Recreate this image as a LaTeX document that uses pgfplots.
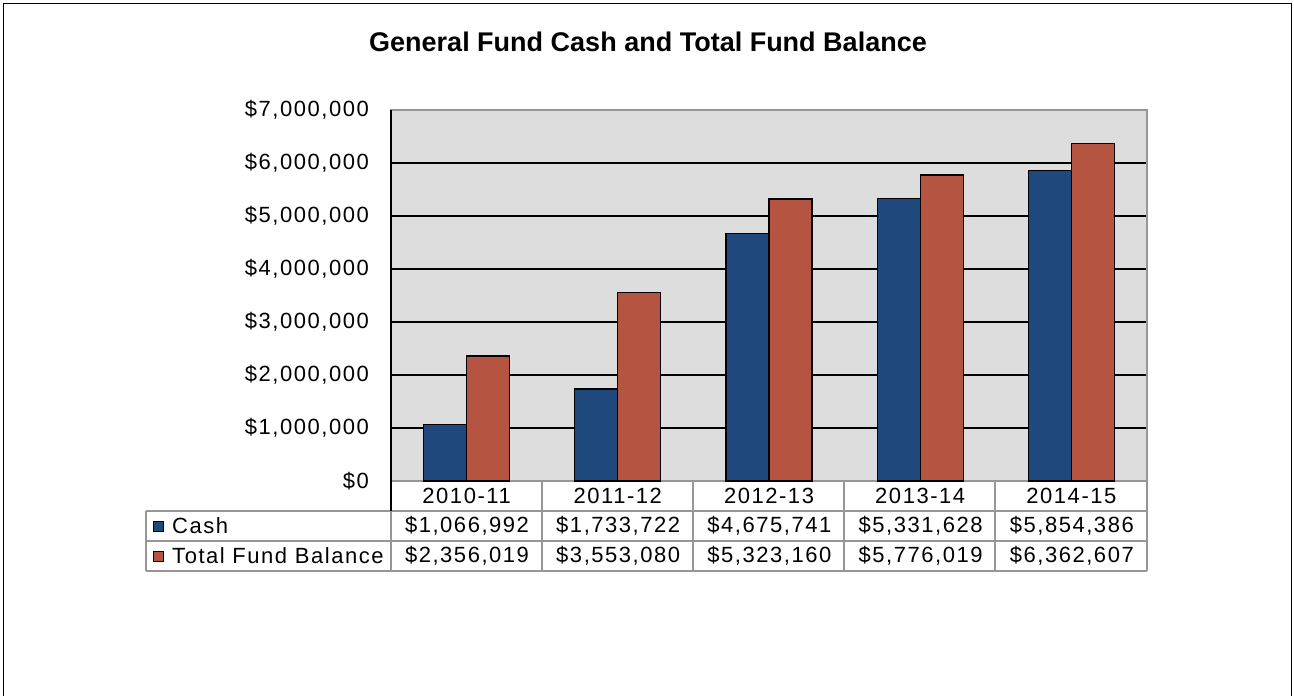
\documentclass[border=0pt]{standalone}
\usepackage{fontspec}
\setmainfont{Liberation Sans}[LetterSpace=7]
\newfontfamily\titlefont{Liberation Sans Bold}
\usepackage{pgfplots}
\pgfplotsset{compat=1.18}
\definecolor{bgc}{RGB}{221,221,221}
\definecolor{cashc}{RGB}{31,73,125}
\definecolor{tfbc}{RGB}{182,84,66}
\definecolor{tabc}{RGB}{150,150,150}
\begin{document}
\begin{tikzpicture}[x=1bp,y=1bp]
\useasboundingbox (0,0) rectangle (1294,696);
\draw[line width=1.5bp] (3.5,0) -- (3.5,692.5) -- (1291.5,692.5) -- (1291.5,0);
\node[font=\titlefont\fontsize{27bp}{30bp}\selectfont] at (648,654) {General Fund Cash and Total Fund Balance};
\begin{axis}[at={(391bp,215bp)}, anchor=south west,
  width=756bp, height=371bp, scale only axis,
  xmin=-0.5, xmax=4.5, ymin=0, ymax=7000000,
  ybar=0pt, bar width=43bp,
  xtick={0,1,2,3,4},
  xticklabels={2010-11,2011-12,2012-13,2013-14,2014-15},
  ytick={0,1000000,2000000,3000000,4000000,5000000,6000000,7000000},
  yticklabels={\$0,{\$1,000,000},{\$2,000,000},{\$3,000,000},{\$4,000,000},{\$5,000,000},{\$6,000,000},{\$7,000,000}},
  major tick length=0pt,
  ymajorgrids, grid style={black, line width=1.3bp},
  axis background/.style={fill=bgc},
  axis line style={tabc, line width=1.5bp},
  tick label style={font=\fontsize{22bp}{24bp}\selectfont},
  yticklabel style={anchor=east, inner sep=0pt, xshift=-22bp},
  xticklabel style={anchor=center, inner sep=0pt, yshift=-15bp},
  clip=false, scaled y ticks=false]
\addplot[fill=cashc, draw=black, line width=1.3bp] coordinates {(0,1066992) (1,1733722) (2,4675741) (3,5331628) (4,5854386)};
\addplot[fill=tfbc, draw=black, line width=1.3bp] coordinates {(0,2356019) (1,3553080) (2,5323160) (3,5776019) (4,6362607)};
\end{axis}
% data table
\begin{scope}[tabc, line width=1.5bp]
\draw (146,185) -- (1147,185);
\draw (146,155) -- (1147,155);
\draw (146,125) -- (1147,125);
\draw (146,185) -- (146,125);
\draw (391,185) -- (391,125);
\foreach \x in {542,693,844,995,1147} \draw (\x,215) -- (\x,125);
\end{scope}
\draw[black, line width=1.5bp] (391,586) -- (391,185);
\begin{scope}[font=\fontsize{22bp}{24bp}\selectfont]
\filldraw[fill=cashc, draw=black, line width=0.8bp] (153,164.5) rectangle (163,174.5);
\filldraw[fill=tfbc, draw=black, line width=0.8bp] (153,134.5) rectangle (163,144.5);
\node[anchor=west, inner sep=0pt] at (172,170) {Cash};
\node[anchor=west, inner sep=0pt] at (172,140) {Total Fund Balance};
\node at (467.0,170) {\$1,066,992};
\node at (618.2,170) {\$1,733,722};
\node at (769.4,170) {\$4,675,741};
\node at (920.6,170) {\$5,331,628};
\node at (1071.8,170) {\$5,854,386};
\node at (467.0,140) {\$2,356,019};
\node at (618.2,140) {\$3,553,080};
\node at (769.4,140) {\$5,323,160};
\node at (920.6,140) {\$5,776,019};
\node at (1071.8,140) {\$6,362,607};
\end{scope}
\end{tikzpicture}
\end{document}
